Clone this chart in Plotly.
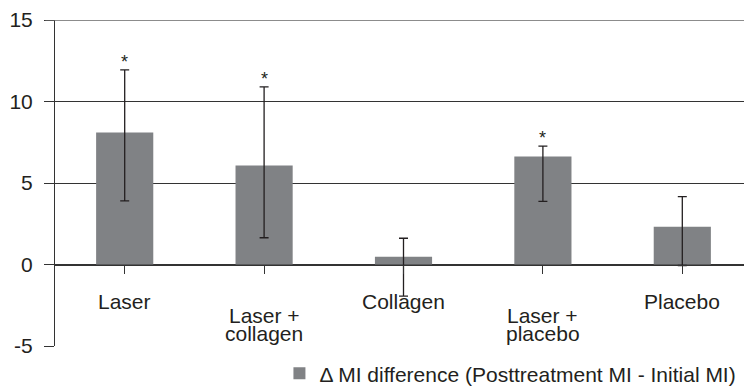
import plotly.graph_objects as go

categories = ["Laser", "Laser +\ncollagen", "Collagen", "Laser +\nplacebo", "Placebo"]
means = [8.1, 6.07, 0.47, 6.63, 2.31]
err_plus = [3.84, 4.83, 1.14, 0.63, 1.86]
err_minus = [4.2, 4.43, 2.41, 2.76, 2.37]
significance = ["*", "*", "", "*", ""]
series_name = "\u0394 MI difference (Posttreatment MI - Initial MI)"
y_ticks = [-5, 0, 5, 10, 15]

FONT = "Liberation Sans, Arial, sans-serif"
TXT = "#231f20"
FS = 21
x_idx = list(range(len(categories)))

fig = go.Figure()
fig.add_trace(go.Bar(
    x=x_idx, y=means, name=series_name,
    marker=dict(color="#808285", line=dict(width=0)),
    width=0.41,
    error_y=dict(type="data", array=err_plus, arrayminus=err_minus,
                 color="#231f20", thickness=1.3, width=4.5, visible=True),
    showlegend=True,
))

annotations = []
for i, lab in enumerate(categories):
    lines = lab.split("\n")
    base = 23 if len(lines) == 1 else 37
    for j, ln in enumerate(lines):
        annotations.append(dict(
            x=i, y=0, xref="x", yref="y", text=ln, showarrow=False,
            yanchor="top", xanchor="center", yshift=-(base + 18 * j),
            font=dict(family=FONT, size=FS, color=TXT)))
for i, s in enumerate(significance):
    if s:
        annotations.append(dict(
            x=i, y=means[i] + err_plus[i], xref="x", yref="y", text=s,
            showarrow=False, yanchor="bottom", yshift=-4,
            font=dict(family=FONT, size=18, color=TXT)))

fig.update_layout(
    width=744, height=378,
    margin=dict(l=47, r=0, t=12, b=40, autoexpand=False),
    paper_bgcolor="white", plot_bgcolor="white",
    font=dict(family=FONT, size=FS, color=TXT),
    showlegend=True,
    legend=dict(orientation="h", x=0.322, xanchor="left", y=-0.085, yanchor="middle",
                font=dict(family=FONT, size=FS, color=TXT), itemwidth=30,
                bgcolor="rgba(0,0,0,0)"),
    xaxis=dict(anchor="free", position=0.25, range=[-0.5, len(categories) - 0.5],
               tickmode="array", tickvals=x_idx, ticktext=[""] * len(categories),
               tickson="boundaries", ticks="outside", ticklen=8, tickcolor="#333",
               tickwidth=1, showline=True, linecolor="#333", linewidth=1,
               showgrid=False, zeroline=False, showticklabels=False),
    yaxis=dict(range=[-5, 15], tickvals=y_ticks, ticktext=[str(v) for v in y_ticks],
               showgrid=True, gridcolor="#333", gridwidth=1, zeroline=False,
               showline=True, linecolor="#333", linewidth=1,
               ticks="outside", ticklen=10, tickcolor="#333",
               tickfont=dict(family=FONT, size=FS, color=TXT), ticklabelstandoff=7),
    annotations=annotations,
    shapes=[dict(type="line", xref="paper", yref="y", x0=-0.014, x1=1, y0=15, y1=15,
                 line=dict(color="#666", width=1.5))],
)

fig.write_html("out.html")
